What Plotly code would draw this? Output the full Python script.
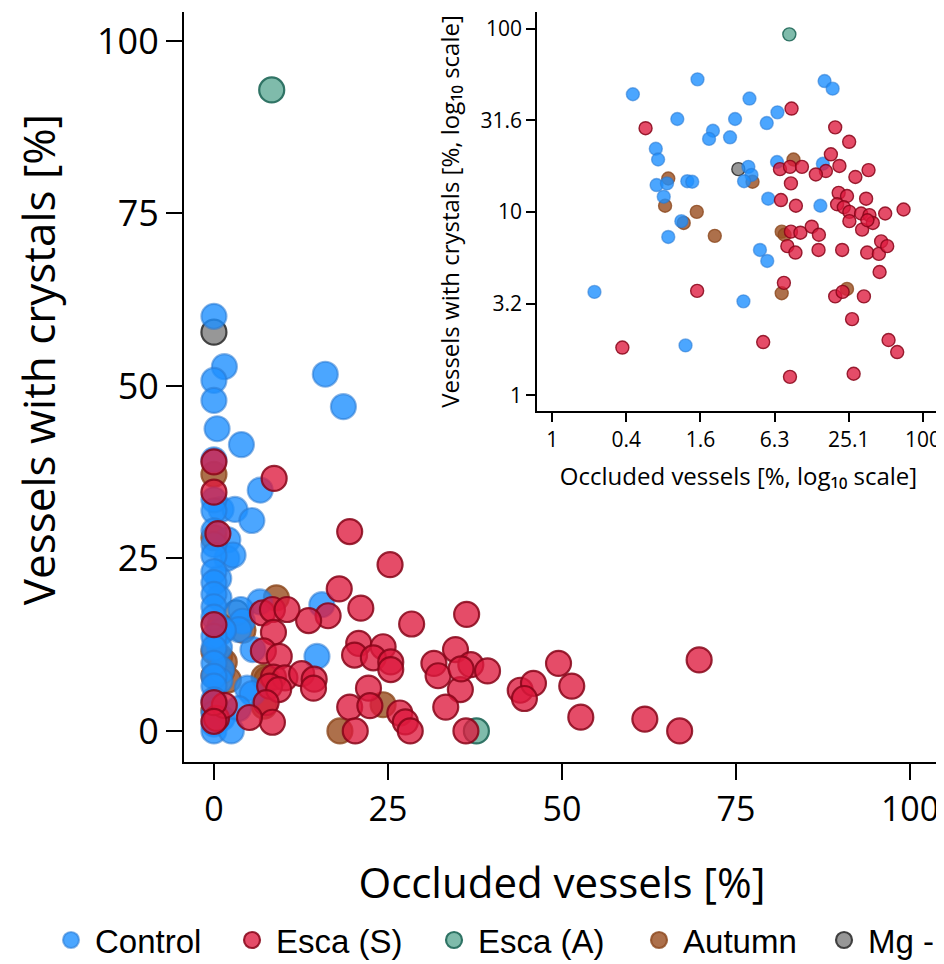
import plotly.graph_objects as go

# ---------------- data ----------------
control_x = [0.45, 1.50, 16.0, 18.6, 3.95, 1.03, 3.02, 5.45, 6.65, 2.0, 1.86, 2.75, 0.69, 0.72,
             6.6, 15.5, 3.87, 4.1, 3.57, 0.70, 0.85, 1.24, 1.36, 0.80, 5.6, 1.11, 0.87, 14.8,
             4.8, 5.5, 1.2, 0.22, 3.53,
             0, 0, 0, 0, 0, 0, 0, 0, 0, 0, 0, 0, 0, 0, 0, 0, 0, 0, 0, 0, 0, 0, 0, 2.5]
control_y = [43.8, 52.8, 51.7, 47.0, 41.5, 32.1, 32.1, 30.5, 34.9, 27.7, 25.0, 25.5, 22.1, 19.3,
             18.7, 18.3, 17.6, 15.9, 14.7, 14.0, 14.3, 14.7, 14.6, 12.1, 11.8, 8.9, 7.3, 10.8,
             6.2, 5.4, 1.87, 3.66, 3.25,
             60.1, 50.8, 47.9, 39.3, 33.5, 31.9, 29.0, 27.0, 25.4, 23.1, 21.5, 19.8, 18.0, 16.5,
             13.7, 12.0, 9.8, 7.9, 6.5, 4.5, 2.5, 1.0, 0.0, 0.0]

esca_s_x = [8.65, 0.57, 19.5, 25.3, 18.0, 21.1, 16.4, 13.6, 6.97, 8.4, 10.5, 28.4, 36.3, 8.55,
            7.1, 20.8, 24.3, 34.7, 9.38, 20.2, 22.9, 25.4, 31.6, 25.4, 36.9, 39.3, 32.2, 49.5,
            69.7, 8.55, 10.2, 12.6, 14.4, 8.0, 9.3, 14.3, 22.2, 35.4, 44.0, 45.9, 51.4, 44.6,
            7.5, 19.5, 22.4, 33.3, 26.7, 52.7, 61.9, 27.5, 8.4, 5.1, 0.37, 1.49, 35.5,
            28.2, 20.3, 36.2, 66.9, 0, 0, 0, 0, 0]
esca_s_y = [36.6, 28.6, 28.9, 24.1, 20.6, 17.8, 16.7, 16.0, 17.1, 17.6, 17.6, 15.5, 16.9, 14.3,
            11.6, 12.7, 12.2, 11.8, 10.8, 11.0, 10.6, 10.0, 9.8, 8.9, 9.6, 8.7, 8.0, 9.8,
            10.3, 7.8, 7.7, 8.3, 7.5, 6.5, 6.0, 6.2, 6.2, 6.0, 5.9, 6.9, 6.5, 4.7,
            4.1, 3.46, 3.66, 3.46, 2.6, 2.0, 1.72, 1.31, 1.26, 1.95, 1.82, 3.71, 9.0,
            0.0, 0.0, 0.0, 0.0, 39.0, 34.6, 15.4, 4.1, 1.4]

esca_a_x = [8.3, 37.7]
esca_a_y = [92.9, 0.0]

autumn_x = [8.97, 4.18, 0.87, 0.82, 1.48, 1.16, 2.07, 7.2, 7.6, 7.2, 24.3, 18.1, 0, 0, 0, 0, 0]
autumn_y = [19.3, 14.6, 15.2, 10.8, 10.0, 8.7, 7.4, 7.8, 7.5, 3.6, 3.8, 0.0, 37.2, 28.0, 11.5, 8.0, 3.0]

mg_x = [0, 3.21]
mg_y = [57.8, 17.1]

groups = ["Control", "Esca (S)", "Esca (A)", "Autumn", "Mg -"]
draw_order = ["Mg -", "Esca (A)", "Autumn", "Control", "Esca (S)"]

main_x_ticks = [0, 25, 50, 75, 100]
main_y_ticks = [0, 25, 50, 75, 100]
inset_x_tickvals = [0.1, 0.398, 1.585, 6.31, 25.12, 100]
inset_x_ticktext = ["1", "0.4", "1.6", "6.3", "25.1", "100"]
inset_y_tickvals = [1, 3.16, 10, 31.6, 100]
inset_y_ticktext = ["1", "3.2", "10", "31.6", "100"]

# ---------------- styles ----------------
styles = {
    "Control": dict(fill="rgba(30,144,255,0.80)", line="rgba(40,120,210,0.55)", lw=128),
    "Esca (S)": dict(fill="rgba(222,25,62,0.78)", line="rgba(135,5,25,0.85)", lw=149),
    "Esca (A)": dict(fill="rgba(95,170,150,0.80)", line="rgba(40,110,95,0.95)", lw=152),
    "Autumn": dict(fill="rgba(155,80,35,0.82)", line="rgba(140,72,30,0.8)", lw=132),
    "Mg -": dict(fill="rgba(128,128,128,0.82)", line="rgba(50,50,50,0.9)", lw=66),
}
data = {
    "Control": (control_x, control_y),
    "Esca (S)": (esca_s_x, esca_s_y),
    "Esca (A)": (esca_a_x, esca_a_y),
    "Autumn": (autumn_x, autumn_y),
    "Mg -": (mg_x, mg_y),
}

fig = go.Figure()
for g in draw_order:
    xs, ys = data[g]
    st = styles[g]
    fig.add_trace(go.Scatter(
        x=xs, y=ys, mode="markers", name=g, legendgroup=g,
        legendrank=groups.index(g) + 1, legendwidth=st["lw"],
        marker=dict(size=25, color=st["fill"], line=dict(color=st["line"], width=2.2)),
        xaxis="x", yaxis="y"))
for g in draw_order:
    xs, ys = data[g]
    st = styles[g]
    px = [a for a, b in zip(xs, ys) if a > 0 and b > 0]
    py = [b for a, b in zip(xs, ys) if a > 0 and b > 0]
    fig.add_trace(go.Scatter(
        x=px, y=py, mode="markers", name=g, legendgroup=g, showlegend=False,
        marker=dict(size=13, color=st["fill"], line=dict(color=st["line"], width=1.4)),
        xaxis="x2", yaxis="y2"))

fig.update_layout(
    width=936, height=964,
    margin=dict(l=176, r=4, t=4, b=206),
    paper_bgcolor="white", plot_bgcolor="white",
    font=dict(family="Open Sans, DejaVu Sans, sans-serif", color="black"),
    xaxis=dict(domain=[0, 1], anchor="y", range=[-4.3, 104.3], tickvals=main_x_ticks,
               ticks="outside", ticklen=16, tickwidth=2, tickcolor="black",
               showline=True, linecolor="black", linewidth=2, showgrid=False, zeroline=False,
               automargin=False,
               tickfont=dict(size=34, color="black"),
               title=dict(text="Occluded vessels [%]", font=dict(size=42), standoff=39)),
    yaxis=dict(domain=[0, 1], anchor="x", range=[-4.5, 104.2], tickvals=main_y_ticks,
               ticks="outside", ticklen=16, tickwidth=2, tickcolor="black",
               showline=True, linecolor="black", linewidth=2, showgrid=False, zeroline=False,
               automargin=False,
               tickfont=dict(size=36, color="black")),
    xaxis2=dict(domain=[0.467, 1], anchor="y2", type="log", range=[-1.122, 2.138],
                tickvals=inset_x_tickvals, ticktext=inset_x_ticktext,
                ticks="outside", ticklen=9, tickwidth=1.5, tickcolor="black",
                showline=True, linecolor="black", linewidth=1.6, showgrid=False, zeroline=False,
                automargin=False,
                tickfont=dict(size=21),
                title=dict(text="Occluded vessels [%, log₁₀ scale]", font=dict(size=24), standoff=16)),
    yaxis2=dict(domain=[0.468, 1], anchor="x2", type="log", range=[-0.086, 2.09],
                tickvals=inset_y_tickvals, ticktext=inset_y_ticktext,
                ticks="outside", ticklen=9, tickwidth=1.5, tickcolor="black",
                showline=True, linecolor="black", linewidth=1.6, showgrid=False, zeroline=False,
                automargin=False,
                tickfont=dict(size=21),
                title=dict(text="Vessels with crystals [%, log₁₀ scale]", font=dict(size=24), standoff=14)),
    annotations=[dict(text="Vessels with crystals [%]", textangle=-90, xref="paper", yref="paper",
                      x=-0.1931, y=0.5358, xanchor="center", yanchor="middle", showarrow=False,
                      font=dict(size=44, color="black"))],
    legend=dict(orientation="h", x=-0.1812, xanchor="left", y=-0.2374, yanchor="middle",
                font=dict(family="Liberation Sans, Arial, sans-serif", size=33, color="black"),
                bgcolor="rgba(0,0,0,0)", itemsizing="trace", itemwidth=38,
                traceorder="normal"),
    showlegend=True,
)

fig.write_html("out.html")
